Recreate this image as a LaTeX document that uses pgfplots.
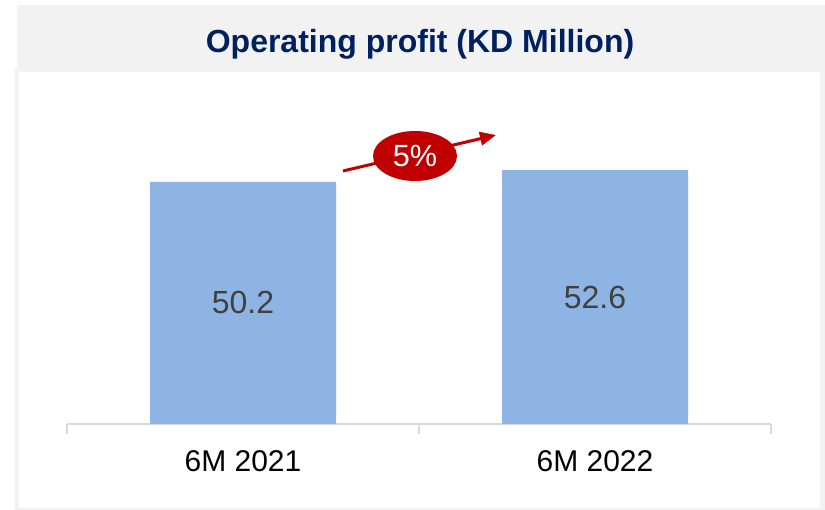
\documentclass[border=0pt]{standalone}
\usepackage{fontspec}
\setmainfont{Liberation Sans}
\usepackage{pgfplots}
\pgfplotsset{compat=1.18}
\usetikzlibrary{arrows.meta}
\definecolor{barblue}{RGB}{142,180,227}
\definecolor{titlenavy}{RGB}{0,32,96}
\definecolor{panelgray}{RGB}{242,242,242}
\definecolor{axisgray}{RGB}{217,217,217}
\definecolor{valgray}{RGB}{64,64,64}
\definecolor{kred}{RGB}{192,0,0}

\begin{document}
\begin{tikzpicture}[x=0.75pt, y=0.75pt]
\path[use as bounding box] (0,0) rectangle (825,510);
% panel and title bar
\fill[panelgray] (15,0) rectangle (825,442);
\fill[white] (19,2) rectangle (820,438);
\fill[panelgray] (17,438) rectangle (825,505);
\node[font=\bfseries\fontsize{24}{28}\selectfont, text=titlenavy, anchor=base] at (420,457) {Operating profit (KD Million)};

\begin{axis}[scale only axis, width=528pt, height=217.1pt,
  at={(50.25pt,64.5pt)}, anchor=south west,
  ymin=0, ymax=60, xmin=-0.5, xmax=1.5,
  axis y line=none, axis x line*=bottom,
  x axis line style={draw=axisgray, line width=1.1pt, -},
  xtick={0,1}, xticklabels={6M 2021, 6M 2022},
  major tick length=0pt,
  xticklabel style={font=\fontsize{22.5}{27}\selectfont, anchor=base, yshift=-36pt},
  extra x ticks={-0.5,0.5,1.5}, extra x tick labels={},
  extra x tick style={major tick length=7.5pt, tick align=outside,
    tick style={draw=axisgray, line width=1.1pt}},
  clip=false]
\addplot[ybar, fill=barblue, draw=none, bar width=139.5pt,
  point meta=explicit symbolic,
  visualization depends on={y \as \rawy},
  nodes near coords,
  nodes near coords style={font=\fontsize{24}{28}\selectfont, text=valgray,
    anchor=center, shift={(axis direction cs:0,-\rawy/2)}}]
  coordinates {(0,50.2) [50.2] (1,52.6) [52.6]};
\end{axis}

% growth annotation
\draw[kred, line width=2.25pt, -{Triangle[length=12pt, width=10pt]}] (343,339) -- (496,375);
\fill[kred] (415,354) ellipse [x radius=42, y radius=25];
\node[font=\fontsize{23}{27}\selectfont, text=white] at (415,354) {5\%};
\end{tikzpicture}
\end{document}
